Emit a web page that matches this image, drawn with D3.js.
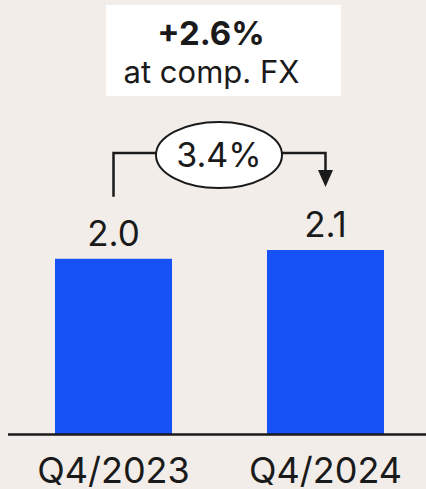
<!DOCTYPE html>
<html>
<head>
<meta charset="utf-8">
<script src="https://cdn.jsdelivr.net/npm/d3@7"></script>
<style>
  html, body { margin: 0; padding: 0; background: #f2ede9; }
  svg { display: block; font-family: Inter, "Noto Sans", sans-serif; }
</style>
</head>
<body>
<svg id="chart" width="426" height="489"></svg>
<script>
// Quarterly values (in billions)
const categories = ["Q4/2023", "Q4/2024"];
const values = [2.0, 2.1];
const valueLabels = ["2.0", "2.1"];
const growthLabel = "3.4%";
const headline = "+2.6%";
const headlineSub = "at comp. FX";

const W = 426, H = 489;
const baseline = 434.5;
const svg = d3.select("#chart");

svg.append("rect").attr("width", W).attr("height", H).attr("fill", "#f2ede9");

const x = d3.scaleBand()
  .domain(categories)
  .range([2, 437])
  .paddingInner(0.448)
  .paddingOuter(0.25);

const y = d3.scaleLinear()
  .domain([0, 2.1])
  .range([baseline, 250]);

// Headline box
const box = svg.append("g");
box.append("rect")
  .attr("x", 106).attr("y", 5).attr("width", 235).attr("height", 91)
  .attr("fill", "#ffffff");
box.append("text")
  .attr("x", 211).attr("y", 45)
  .attr("text-anchor", "middle")
  .attr("font-size", 33).attr("font-weight", 700)
  .attr("fill", "#1a1a1a")
  .text(headline);
box.append("text")
  .attr("x", 211.5).attr("y", 83)
  .attr("text-anchor", "middle")
  .attr("font-size", 31)
  .attr("fill", "#1a1a1a")
  .text(headlineSub);

// Bars
svg.append("g").selectAll("rect")
  .data(values)
  .join("rect")
  .attr("x", (d, i) => x(categories[i]))
  .attr("width", x.bandwidth())
  .attr("y", d => y(d))
  .attr("height", d => baseline - y(d))
  .attr("fill", "#1652f5");

// Value labels above bars
svg.append("g").selectAll("text")
  .data(values)
  .join("text")
  .attr("x", (d, i) => x(categories[i]) + x.bandwidth() / 2)
  .attr("y", d => y(d) - 13)
  .attr("text-anchor", "middle")
  .attr("font-size", 35)
  .attr("fill", "#1a1a1a")
  .text((d, i) => valueLabels[i]);

// Baseline axis
const axis = svg.append("g").attr("transform", `translate(0,${baseline})`)
  .call(d3.axisBottom(x).tickSize(0).tickPadding(0));
axis.select(".domain").remove();
axis.append("line")
  .attr("x1", 8).attr("x2", W).attr("y1", 0).attr("y2", 0)
  .attr("stroke", "#1a1a1a").attr("stroke-width", 2.5);
axis.selectAll(".tick text")
  .attr("y", 48)
  .attr("dy", 0)
  .attr("font-size", 36)
  .attr("font-family", "Inter, 'Noto Sans', sans-serif")
  .attr("fill", "#1a1a1a");

// Growth connector between the two bars
const cx1 = x(categories[0]) + x.bandwidth() / 2;
const cx2 = x(categories[1]) + x.bandwidth() / 2;
const lineY = 153;
const ell = { cx: 219, cy: 155, rx: 63, ry: 33 };
const stroke = "#1a1a1a";
const conn = svg.append("g");
conn.append("path")
  .attr("d", `M${cx1},${y(values[0]) - 62} V${lineY} H${ell.cx - ell.rx + 1}`)
  .attr("fill", "none").attr("stroke", stroke).attr("stroke-width", 2.5);
const tipY = y(values[1]) - 63;
conn.append("path")
  .attr("d", `M${ell.cx + ell.rx - 1},${lineY} H${cx2} V${tipY - 14}`)
  .attr("fill", "none").attr("stroke", stroke).attr("stroke-width", 2.5);
conn.append("path")
  .attr("d", `M${cx2 - 7.5},${tipY - 17} L${cx2 + 7.5},${tipY - 17} L${cx2},${tipY} Z`)
  .attr("fill", stroke);
conn.append("ellipse")
  .attr("cx", ell.cx).attr("cy", ell.cy).attr("rx", ell.rx).attr("ry", ell.ry)
  .attr("fill", "#ffffff").attr("stroke", stroke).attr("stroke-width", 2);
conn.append("text")
  .attr("x", ell.cx).attr("y", 167)
  .attr("text-anchor", "middle")
  .attr("font-size", 34)
  .attr("fill", "#1a1a1a")
  .text(growthLabel);
</script>
</body>
</html>
